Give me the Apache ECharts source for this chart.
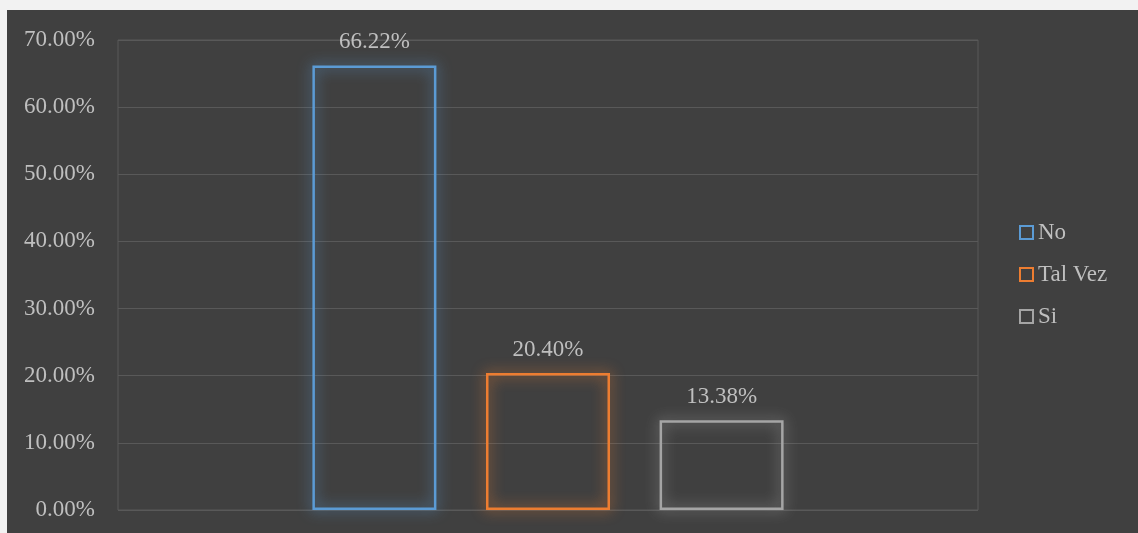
<!DOCTYPE html>
<html>
<head>
<meta charset="utf-8">
<script src="https://cdn.jsdelivr.net/npm/echarts@6/dist/echarts.min.js"></script>
<style>
  html, body { margin: 0; padding: 0; background: #f2f2f2; }
  #chart { position: absolute; left: 7px; top: 10px; width: 1131px; height: 523px; background: #404040; }
</style>
</head>
<body>
<div id="chart"></div>
<script>
var categories = [''];
var seriesNames = ['No', 'Tal Vez', 'Si'];
var seriesValues = [66.22, 20.40, 13.38];
var seriesColors = ['#5b9bd5', '#ed7d31', '#a5a5a5'];
var yTicks = { min: 0, max: 70, interval: 10 };

var font = 'Liberation Serif, Times New Roman, serif';
var textColor = '#bfbfbf';

var chart = echarts.init(document.getElementById('chart'));

var series = seriesNames.map(function (name, i) {
  return {
    name: name,
    type: 'bar',
    barWidth: 124,
    barGap: '40%',
    data: [seriesValues[i]],
    itemStyle: {
      color: 'rgba(0,0,0,0)',
      borderColor: seriesColors[i],
      borderWidth: 2.5,
      shadowBlur: 14,
      shadowColor: seriesColors[i]
    },
    label: {
      show: true,
      position: 'top',
      distance: 12,
      color: textColor,
      fontFamily: font,
      fontSize: 23,
      formatter: function (p) { return p.value.toFixed(2) + '%'; }
    },
    emphasis: { disabled: true }
  };
});

var option = {
  backgroundColor: '#404040',
  animation: false,
  grid: {
    left: 111, top: 30, right: 160, bottom: 23,
    show: true, borderColor: '#595959', borderWidth: 1
  },
  legend: {
    orient: 'vertical',
    left: 1007,
    top: 206,
    itemWidth: 13,
    itemHeight: 13,
    itemGap: 19,
    icon: 'rect',
    textStyle: { color: textColor, fontFamily: font, fontSize: 23 },
    itemStyle: { shadowBlur: 0, borderWidth: 2 },
    data: seriesNames
  },
  xAxis: {
    type: 'category',
    data: categories,
    axisLine: { show: false },
    axisTick: { show: false },
    axisLabel: { show: false }
  },
  yAxis: {
    type: 'value',
    min: yTicks.min,
    max: yTicks.max,
    interval: yTicks.interval,
    axisLine: { show: false },
    axisTick: { show: false },
    splitLine: { lineStyle: { color: '#595959', width: 1 } },
    axisLabel: {
      color: textColor,
      fontFamily: font,
      fontSize: 23,
      margin: 23,
      formatter: function (v) { return v.toFixed(2) + '%'; }
    }
  },
  series: series
};

chart.setOption(option);
</script>
</body>
</html>
